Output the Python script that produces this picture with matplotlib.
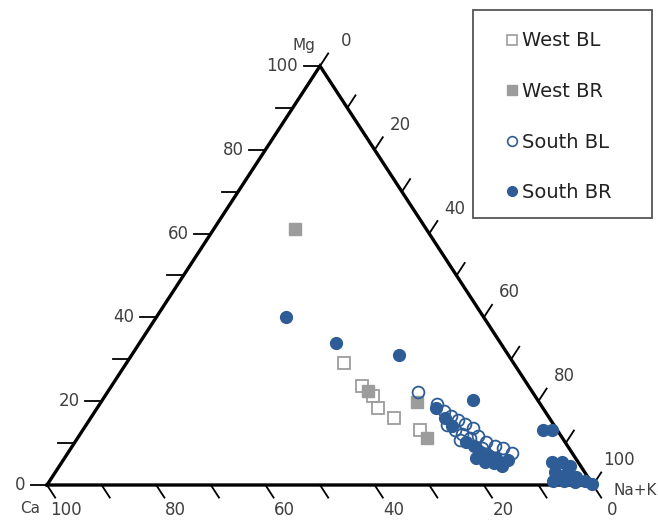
import matplotlib
matplotlib.use("Agg")
import matplotlib.pyplot as plt
from matplotlib.lines import Line2D
from matplotlib.patches import Rectangle
import numpy as np

plt.rcParams['font.family'] = ['DejaVu Sans']

# Ionic composition (percent of Ca, Mg, Na+K) for each group
west_bl_ca  = [31.0, 30.5, 29.7, 30.2, 28.4, 25.1]
west_bl_mg  = [29.1, 23.6, 21.2, 18.4, 16.0, 13.1]
west_bl_nak = [39.9, 45.9, 49.1, 51.4, 55.6, 61.8]

west_br_ca  = [24.0, 30.0, 22.3, 24.8]
west_br_mg  = [61.1, 22.4, 19.8, 11.2]
west_br_nak = [14.9, 47.6, 57.9, 64.0]

south_bl_ca  = [21.0, 18.9, 18.4, 17.7, 17.0, 16.1, 15.2, 19.6, 18.7,
                17.9, 16.9, 15.2, 14.5, 13.3, 12.1, 11.0, 19.0, 15.9]
south_bl_mg  = [22.2, 19.3, 17.7, 16.5, 15.5, 14.6, 13.6, 14.3, 13.1,
                12.2, 11.2, 11.7, 10.3, 9.3, 8.8, 7.6, 10.7, 8.8]
south_bl_nak = [56.8, 61.8, 63.9, 65.8, 67.5, 69.3, 71.2, 66.1, 68.2,
                69.9, 71.9, 73.1, 75.2, 77.4, 79.1, 81.4, 70.3, 75.3]

south_br_ca  = [36.2, 30.1, 20.0, 11.8, 19.6, 19.1, 18.8, 18.1, 17.1,
                16.8, 15.6, 14.6, 17.0, 15.5, 14.5, 12.6, 18.2, 2.6, 1.0,
                4.8, 2.9, 2.0, 5.4, 3.6, 2.2, 6.8, 4.8, 3.0, 1.0, 0.1]
south_br_mg  = [40.1, 33.9, 31.0, 20.3, 18.4, 16.0, 14.1, 10.3, 9.3,
                7.9, 7.2, 6.4, 5.5, 5.3, 4.5, 6.0, 6.4, 13.1, 13.1,
                5.5, 5.5, 4.5, 3.1, 2.6, 1.9, 1.0, 1.0, 0.7, 1.0, 0.2]
south_br_nak = [23.7, 36.0, 49.0, 67.9, 62.0, 64.9, 67.1, 71.6, 73.6,
                75.3, 77.2, 79.0, 77.5, 79.2, 81.0, 81.4, 75.4, 84.3, 85.9,
                89.7, 91.6, 93.5, 91.5, 93.8, 95.9, 92.2, 94.2, 96.3, 98.0, 99.7]

tick_values = list(range(0, 101, 10))
label_values = list(range(0, 101, 20))

BLUE = '#2d5c96'
GREY = '#9c9c9c'
TXT = '#404040'


def tern(ca, mg, nak):
    ca, mg, nak = (np.asarray(v, dtype=float) for v in (ca, mg, nak))
    tot = ca + mg + nak
    mg = mg / tot * 100
    nak = nak / tot * 100
    return nak + mg / 2.0, mg


fig = plt.figure(figsize=(6.58, 5.29), dpi=100)
ax = fig.add_axes([0, 0, 1, 1])
ax.set_xlim(-8.608, 111.90)
ax.set_ylim(-10.50, 115.75)
ax.axis('off')

# triangle outline
vx, vy = tern([100, 0, 0, 100], [0, 0, 100, 0], [0, 100, 0, 0])
ax.plot(vx, vy, color='black', lw=2.4, solid_joinstyle='miter', zorder=2)

tl = 3.0  # tick length in percent units
for v in tick_values:
    # bottom edge: Ca, ticks along lines of constant Ca
    x0, y0 = tern(v, 0, 100 - v)
    x1, y1 = tern(v, -tl, 100 - v + tl)
    ax.plot([x0, x1], [y0, y1], color='black', lw=1.3, zorder=2)
    # left edge: Mg, ticks along lines of constant Mg
    x0, y0 = tern(100 - v, v, 0)
    x1, y1 = tern(100 - v + tl, v, -tl)
    ax.plot([x0, x1], [y0, y1], color='black', lw=1.3, zorder=2)
    # right edge: Na+K, ticks along lines of constant Na+K
    x0, y0 = tern(0, 100 - v, v)
    x1, y1 = tern(-tl, 100 - v + tl, v)
    ax.plot([x0, x1], [y0, y1], color='black', lw=1.3, zorder=2)

for v in label_values:
    x0, y0 = tern(v, 0, 100 - v)
    ax.annotate(str(v), (x0, y0), xytext=(13.7, -18), textcoords='offset points',
                ha='center', va='center', fontsize=12, color=TXT)
    x0, y0 = tern(100 - v, v, 0)
    ax.annotate(str(v), (x0, y0), xytext=(-15.8, 0), textcoords='offset points',
                ha='right', va='center', fontsize=12, color=TXT)
    x0, y0 = tern(0, 100 - v, v)
    ax.annotate(str(v), (x0, y0), xytext=(18.7, 18), textcoords='offset points',
                ha='center', va='center', fontsize=12, color=TXT)

# vertex names
x0, y0 = tern(0, 100, 0)
ax.annotate('Mg', (x0, y0), xytext=(-11.5, 15), textcoords='offset points',
            ha='center', va='center', fontsize=11, color=TXT)
x0, y0 = tern(100, 0, 0)
ax.annotate('Ca', (x0, y0), xytext=(-12, -17), textcoords='offset points',
            ha='center', va='center', fontsize=11, color=TXT)
x0, y0 = tern(0, 0, 100)
ax.annotate('Na+K', (x0, y0), xytext=(14.4, -3.6), textcoords='offset points',
            ha='left', va='center', fontsize=11, color=TXT)

# samples
x, y = tern(west_bl_ca, west_bl_mg, west_bl_nak)
ax.plot(x, y, ls='none', marker='s', ms=8.5, mfc='none', mec=GREY, mew=1.3, zorder=3)
x, y = tern(west_br_ca, west_br_mg, west_br_nak)
ax.plot(x, y, ls='none', marker='s', ms=8.5, mfc=GREY, mec=GREY, mew=1.0, zorder=3)
x, y = tern(south_bl_ca, south_bl_mg, south_bl_nak)
ax.plot(x, y, ls='none', marker='o', ms=8.5, mfc='none', mec=BLUE, mew=1.3, zorder=4)
x, y = tern(south_br_ca, south_br_mg, south_br_nak)
ax.plot(x, y, ls='none', marker='o', ms=8.5, mfc=BLUE, mec=BLUE, mew=1.0, zorder=5)

# legend
handles = [
    Line2D([], [], ls='none', marker='s', ms=7, mfc='none', mec=GREY, mew=1.2),
    Line2D([], [], ls='none', marker='s', ms=7, mfc=GREY, mec=GREY),
    Line2D([], [], ls='none', marker='o', ms=7, mfc='none', mec=BLUE, mew=1.2),
    Line2D([], [], ls='none', marker='o', ms=7, mfc=BLUE, mec=BLUE),
]
labels = ['West BL', 'West BR', 'South BL', 'South BR']
leg = ax.legend(handles, labels, loc='upper left',
                bbox_to_anchor=(505.2 / 658, 1 - 31.5 / 529),
                bbox_transform=fig.transFigure, frameon=False, borderpad=0,
                borderaxespad=0, handlelength=0.7, handletextpad=0.15,
                labelspacing=1.62, fontsize=14)
for t in leg.get_texts():
    t.set_color('#222222')

fig.add_artist(Rectangle((473 / 658, 1 - 218 / 529), 179 / 658, 208 / 529,
                         transform=fig.transFigure, fill=False,
                         edgecolor='#555555', lw=1.3))

fig.savefig('out.png', dpi=100)
